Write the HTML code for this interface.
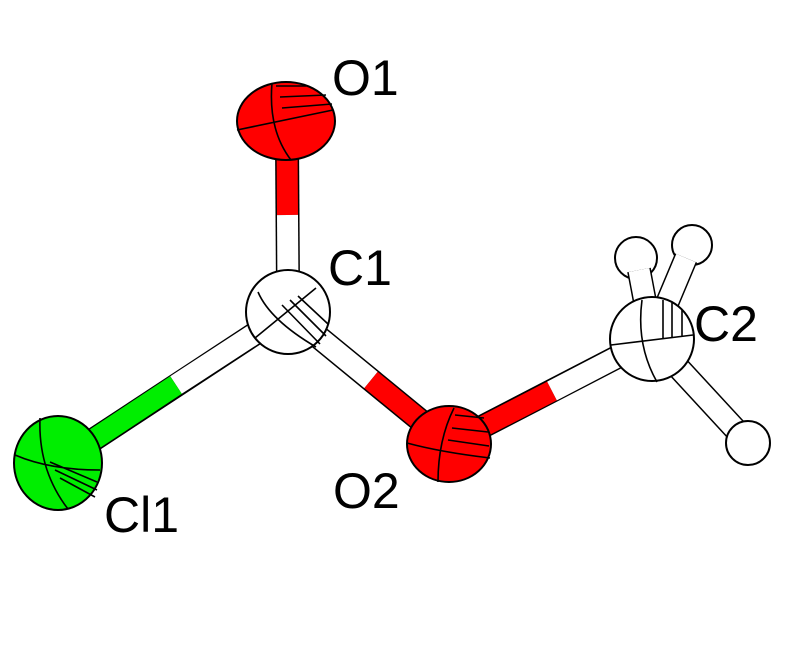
<!DOCTYPE html>
<html><head><style>body{margin:0;background:#fff}svg{display:block}</style></head><body>
<svg width="800" height="654" viewBox="0 0 800 654" xmlns="http://www.w3.org/2000/svg">
<g stroke-linecap="butt">
<g stroke="#000" stroke-width="24">
<line x1="287" y1="140" x2="288" y2="290"/>
<line x1="288" y1="312" x2="58" y2="463"/>
<line x1="288" y1="312" x2="449" y2="444"/>
<line x1="449" y1="444" x2="652" y2="339"/>
<line x1="652" y1="339" x2="748" y2="443"/>
</g>
<g stroke-width="21">
<line x1="287" y1="140" x2="287.5" y2="215" stroke="#f00"/>
<line x1="287.5" y1="215" x2="288" y2="290" stroke="#fff"/>
<line x1="288" y1="312" x2="176" y2="385" stroke="#fff"/>
<line x1="176" y1="385" x2="58" y2="463" stroke="#0e0"/>
<line x1="288" y1="312" x2="371" y2="380" stroke="#fff"/>
<line x1="371" y1="380" x2="449" y2="444" stroke="#f00"/>
<line x1="449" y1="444" x2="552" y2="391" stroke="#f00"/>
<line x1="552" y1="391" x2="652" y2="339" stroke="#fff"/>
<line x1="652" y1="339" x2="748" y2="443" stroke="#fff"/>
</g>
</g>
<g stroke="#000" stroke-width="2">
<circle cx="636" cy="258" r="21" fill="#fff"/>
<circle cx="692" cy="245" r="20" fill="#fff"/>
<circle cx="748" cy="443" r="22" fill="#fff"/>
<line x1="652" y1="339" x2="639" y2="270" stroke-width="24"/>
<line x1="652" y1="339" x2="639" y2="270" stroke="#fff" stroke-width="21"/>
<line x1="652" y1="339" x2="686" y2="258" stroke-width="24"/>
<line x1="652" y1="339" x2="686" y2="258" stroke="#fff" stroke-width="21"/>
<ellipse cx="286" cy="121" rx="49" ry="39" fill="#f00"/>
<path d="M237 130 L333 110 M272 83 Q268 130 291 160 M276 86 L306 86 M280 97 L326 95 M282 108 L332 104" fill="none" stroke-width="1.6"/>
<circle cx="288" cy="312" r="42" fill="#fff"/>
<path d="M255 338 L316 288 M258 292 Q270 320 316 347 M282 305 L320 344 M290 300 L326 336 M298 296 L328 324" fill="none" stroke-width="1.6"/>
<ellipse cx="449" cy="444" rx="42" ry="38" fill="#f00"/>
<path d="M407 443 Q440 452 490 458 M454 408 Q438 440 438 482 M455 415 L484 418 M452 428 L488 432 M448 440 L489 446" fill="none" stroke-width="1.6"/>
<circle cx="652" cy="339" r="42" fill="#fff"/>
<path d="M611 345 L693 335 M642 300 Q636 345 657 382 M663 300 L663 338 M672 303 L672 337 M682 310 L682 336" fill="none" stroke-width="1.6"/>
<ellipse cx="58" cy="463" rx="44" ry="47" fill="#0e0"/>
<path d="M15 455 Q50 470 100 470 M40 418 Q38 470 68 509 M50 462 L97 482 M55 470 L97 490 M60 478 L95 497" fill="none" stroke-width="1.6"/>
</g>
<g font-family="Liberation Sans, sans-serif" font-size="50" fill="#000">
<text x="332" y="95">O1</text>
<text x="328" y="285">C1</text>
<text x="694" y="341">C2</text>
<text x="333" y="508">O2</text>
<text x="104" y="532">Cl1</text>
</g>
</svg>
</body></html>
